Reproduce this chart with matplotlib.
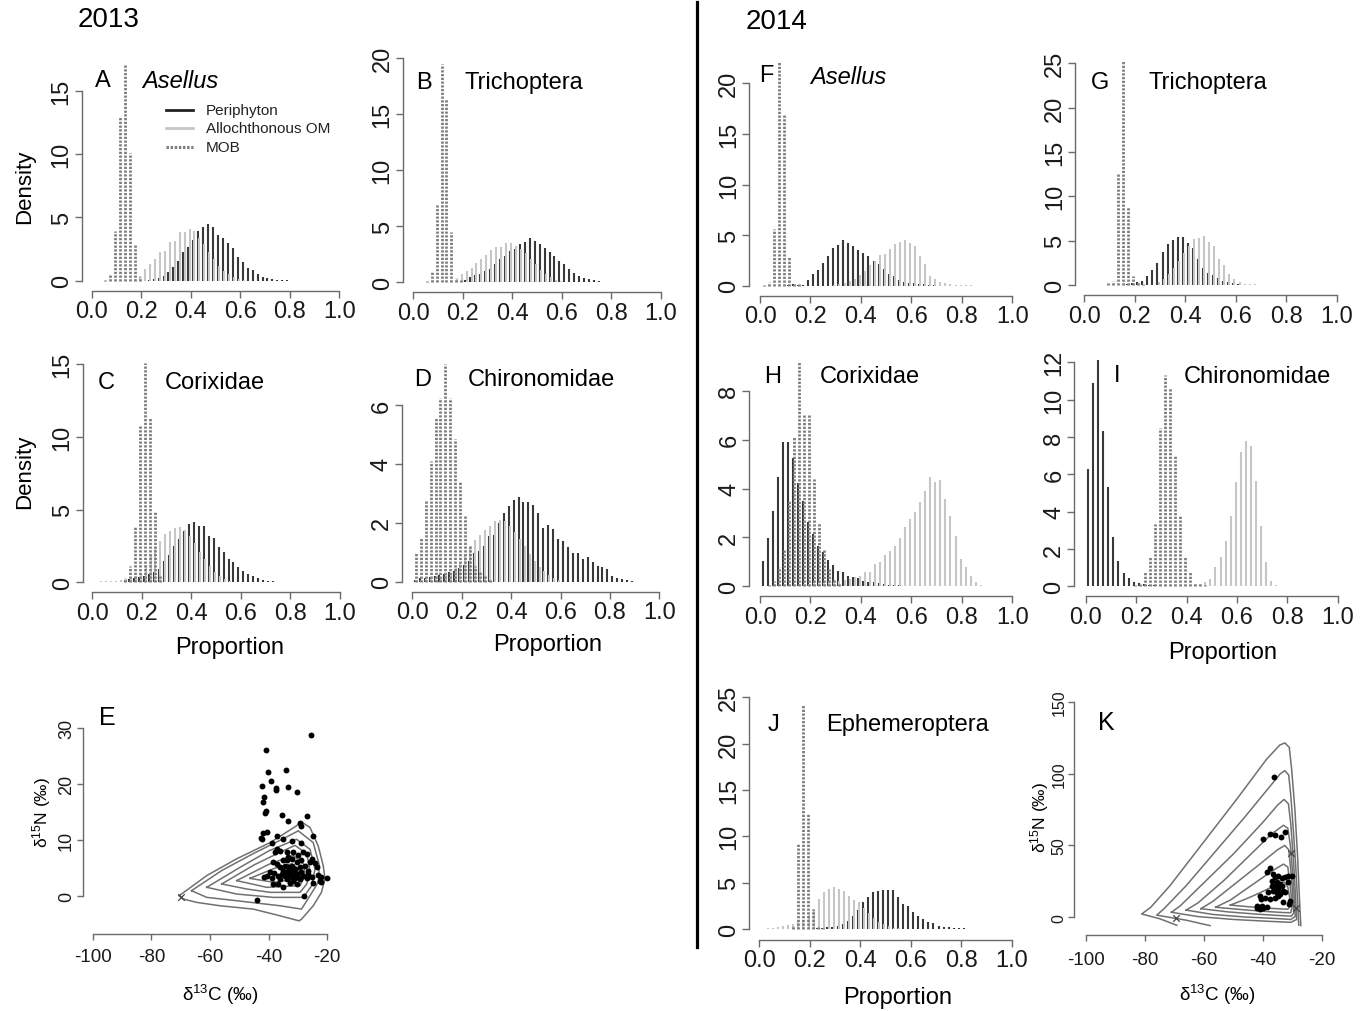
import numpy as np
import matplotlib.pyplot as plt
from matplotlib.lines import Line2D

plt.rcParams['font.family'] = ['Liberation Sans', 'DejaVu Sans']
plt.rcParams['mathtext.fontset'] = 'custom'
plt.rcParams['mathtext.rm'] = 'Liberation Sans'
plt.rcParams['mathtext.it'] = 'Liberation Sans:italic'
plt.rcParams['axes.unicode_minus'] = False

W, H = 1366, 1012
BIN = 0.02

# densities per 0.02 bin: (first bin midpoint, values)
A_peri = (0.23, [0.05,0.13,0.2,0.4,0.65,1.05,1.55,2.24,2.63,3.24,3.9,4.21,4.48,4.21,3.6,3.34,2.95,2.6,1.85,1.45,1.0,0.85,0.5,0.3,0.18,0.12,0.08,0.05,0.03])
A_allo = (0.17, [0.1,0.4,0.9,1.3,1.71,2.24,2.37,3.03,3.16,3.82,3.82,4.08,3.9,3.4,2.9,2.3,1.7,1.2,0.8,0.5,0.3,0.15,0.08])
A_mob = (0.05, [0.05,0.5,3.9,12.9,17.1,10.1,2.9,0.3])

B_peri = (0.21, [0.24,0.45,0.65,0.74,0.98,1.19,1.64,2.08,2.38,2.8,2.98,3.4,3.57,3.93,3.66,3.42,3.04,2.68,2.38,1.93,1.61,1.19,0.83,0.6,0.42,0.3,0.18,0.09,0.06])
B_allo = (0.15, [0.1,0.3,0.75,1.04,1.25,1.73,2.08,2.44,2.92,3.13,3.13,3.5,3.5,3.27,3.0,2.6,2.1,1.6,1.1,0.7,0.45,0.25,0.12,0.05])
B_mob = (0.05, [0.15,0.9,6.9,19.5,16.4,4.5,0.35,0.2])

C_peri = (0.13, [0.18,0.23,0.27,0.34,0.41,0.57,0.69,0.92,1.49,1.88,2.52,2.98,3.55,4.01,4.17,3.85,3.85,3.16,3.02,2.41,2.11,1.6,1.37,1.03,0.8,0.55,0.41,0.27,0.18,0.11,0.07,0.05])
C_allo = (0.01, [0.05,0.06,0.08,0.1,0.12,0.15,0.2,0.28,0.4,0.6,1.2,1.8,2.4,2.86,3.3,3.55,3.7,3.8,3.6,3.2,2.7,2.1,1.6,1.1,0.7,0.4,0.2,0.1])
C_mob = (0.13, [0.27,1.15,3.9,10.8,15.1,11.3,4.86,0.5])

D_peri = (0.01, [0.07,0.11,0.14,0.15,0.18,0.23,0.26,0.32,0.37,0.45,0.57,0.71,0.97,1.05,1.22,1.54,1.58,1.99,2.33,2.58,2.77,2.86,2.69,2.69,2.6,2.33,1.84,1.92,1.79,1.45,1.39,1.17,0.97,0.99,0.77,0.83,0.68,0.54,0.49,0.43,0.18,0.11,0.09,0.05,0.02])
D_allo = (0.01, [0.05,0.07,0.09,0.11,0.14,0.17,0.22,0.3,0.45,0.65,0.9,1.15,1.4,1.6,1.75,1.9,2.05,2.1,2.05,1.9,1.7,1.45,1.2,0.95,0.7,0.5,0.35,0.22,0.12,0.06])
D_mob = (0.01, [1.0,1.47,2.75,4.11,5.56,6.23,7.39,6.23,4.84,3.43,2.24,1.22,0.54,0.32,0.18,0.08])

F_peri = (0.11, [0.1,0.15,0.1,0.1,0.59,1.15,1.55,2.24,2.9,3.69,4.02,4.51,4.22,3.95,3.56,3.23,2.9,2.47,2.11,1.65,1.15,0.92,0.59,0.4,0.3,0.23,0.16,0.13,0.1,0.07])
F_allo = (0.29, [0.05,0.12,0.25,0.45,0.7,1.1,1.5,2.0,2.4,3.03,3.13,3.62,4.12,4.28,4.51,4.22,3.95,2.96,2.14,0.99,0.66,0.4,0.26,0.16,0.1,0.07,0.05,0.03])
F_mob = (0.01, [0.07,0.4,5.6,22.2,16.9,2.96,0.2,0.15])

G_peri = (0.17, [0.1,0.2,0.3,0.49,0.98,1.73,2.48,3.68,4.62,5.04,5.45,5.38,4.74,4.17,2.93,1.92,1.32,1.13,0.75,0.41,0.3,0.19,0.1,0.05])
G_allo = (0.29, [0.3,0.7,1.2,1.9,2.7,3.6,4.4,5.2,5.3,5.5,4.9,4.4,2.9,2.2,1.25,0.68,0.3,0.15,0.1,0.07,0.05,0.03])
G_mob = (0.09, [0.2,0.4,12.5,25.3,8.76,1.0,0.3,0.1])

H_peri = (0.01, [1.05,1.96,3.09,4.46,5.92,5.89,5.24,4.23,3.5,2.62,2.14,1.66,1.39,1.09,0.87,0.64,0.57,0.44,0.37,0.34,0.23,0.19,0.16,0.12,0.1,0.07,0.05,0.04,0.03,0.02])
H_allo = (0.15, [0.05,0.08,0.1,0.12,0.14,0.15,0.17,0.18,0.2,0.25,0.3,0.37,0.44,0.6,0.6,0.91,0.98,1.28,1.46,1.66,1.96,2.41,2.75,3.03,3.46,3.91,4.46,4.28,4.36,3.57,2.86,2.04,1.12,0.78,0.44,0.16,0.05,0.03,0.02])
H_mob = (0.03, [0.05,0.2,0.8,1.5,3.5,6.1,9.2,7.0,7.0,4.4,2.6,1.5,0.7,0.3,0.1])

I_peri = (0.01, [6.3,10.9,12.1,8.34,5.3,2.63,1.38,0.71,0.43,0.25,0.16,0.11,0.07,0.05,0.04,0.03,0.02])
I_allo = (0.43, [0.05,0.1,0.21,0.39,1.02,1.55,2.45,3.79,5.57,7.18,7.8,7.54,5.66,3.25,1.29,0.27,0.07])
I_mob = (0.19, [0.05,0.15,0.84,1.64,3.34,8.46,11.3,10.6,7.0,3.79,1.64,0.79,0.2,0.1,0.05])

J_peri = (0.23, [0.07,0.14,0.18,0.25,0.36,0.54,0.83,1.44,2.09,2.88,3.42,3.96,4.14,4.21,4.21,4.21,3.42,2.7,2.52,1.8,1.37,1.08,0.72,0.65,0.36,0.25,0.18,0.14,0.1,0.07,0.05])
J_allo = (0.01, [0.05,0.08,0.12,0.18,0.28,0.4,0.55,0.75,1.0,1.5,2.16,3.24,4.03,4.32,4.5,4.32,4.14,3.6,3.17,2.88,2.3,1.7,1.2,0.8,0.5,0.3,0.15,0.08])
J_mob = (0.11, [0.05,0.36,9.17,24.3,12.4,2.16,0.25,0.1])

# mixing space 2013 (E): consumers d13C, d15N
E_d13C = [-25.6,-40.9,-40.1,-34.1,-39.3,-42.2,-37.6,-37.5,-33.5,-30.5,-41.5,-41.8,-40.9,-41.3,-35.3,-27.0,-33.3,-29.3,-28.8,-42.0,
          -40.7,-42.6,-42.4,-24.8,-37.3,-38.8,-35.0,-32.2,-28.8,-37.3,-36.1,-33.9,-31.6,-28.2,-27.0,-29.9,-33.3,-32.2,-25.3,-24.2,
          -23.6,-38.4,-37.3,-34.4,-33.3,-32.2,-31.0,-29.3,-27.6,-26.5,-35.0,-33.9,-32.7,-31.6,-30.5,-28.8,-34.4,-33.3,-32.2,-31.0,
          -29.9,-35.6,-36.7,-38.2,-39.5,-40.7,-41.6,-38.9,-36.1,-33.9,-31.8,-29.3,-27.0,-25.3,-23.1,-22.0,-20.2,-22.6,-22.0,-24.8,
          -36.7,-35.0,-38.4,-32.7,-30.5,-43.9,-28.0,-37.8,-33.9,-30.5,-28.8,-25.9,-35.0,-36.1,-32.2,-28.2,-26.5]
E_d15N = [28.7,26.1,22.2,22.4,20.6,19.6,19.2,18.9,19.4,18.6,17.6,16.8,15.2,14.8,14.4,14.3,13.3,13.0,12.4,11.2,
          11.4,10.4,10.1,10.7,10.7,9.4,10.1,9.8,9.5,8.3,8.0,7.8,7.9,7.8,7.5,7.3,6.9,6.6,6.6,5.8,
          5.1,6.1,5.7,5.4,5.1,5.4,4.8,5.1,5.4,4.5,4.5,4.3,4.2,4.0,3.9,4.2,3.6,3.5,3.3,3.2,
          3.4,3.9,3.6,4.0,4.2,3.6,3.4,3.2,3.0,2.9,2.7,3.0,3.1,3.3,3.7,3.3,3.1,2.7,2.4,2.3,
          2.1,1.5,2.1,2.3,2.1,-0.8,0.0,7.8,6.3,6.0,6.3,6.1,6.3,5.1,4.5,3.6,3.9]
E_src_x = [-69.8]
E_src_y = [-0.3]
E_ring1 = [(-70.5,0.0),(-61.1,3.6),(-50.9,6.6),(-39.5,9.5),(-30.5,12.5),(-28.8,13.2),(-25.9,12.2),(-23.1,8.9),(-21.4,5.4),(-20.8,3.0),
           (-22.0,0.6),(-24.8,-1.8),(-28.8,-4.2),(-29.6,-4.5),(-36.1,-3.6),(-45.2,-2.4),(-56.6,-1.8),(-64.5,-1.2),(-69.1,-0.6),(-70.5,0.0)]
E_ring2 = [(-66.3,0.9),(-56.0,4.5),(-45.0,7.6),(-35.0,10.2),(-29.9,11.6),(-24.8,9.5),(-22.7,5.4),(-23.1,2.4),(-25.9,0.0),(-28.8,-2.4),
           (-36.1,-1.8),(-50.9,-0.9),(-61.1,-0.3),(-66.3,0.9)]
E_ring3 = [(-61.1,1.5),(-50.0,5.0),(-40.0,8.0),(-30.5,10.1),(-25.9,8.3),(-24.2,4.8),(-25.3,1.8),(-28.2,-0.3),(-38.4,-0.3),(-50.9,0.3),(-61.1,1.5)]
E_ring4 = [(-56.0,2.1),(-45.0,5.5),(-36.0,7.8),(-31.0,9.0),(-27.0,7.5),(-25.9,4.5),(-27.0,2.1),(-29.3,0.6),(-39.5,0.6),(-47.5,1.2),(-56.0,2.1)]
E_ring5 = [(-50.9,2.7),(-40.0,5.6),(-31.6,7.2),(-28.2,5.7),(-27.6,3.6),(-29.3,1.8),(-40.7,1.5),(-50.9,2.7)]
E_ring6 = [(-46.4,3.1),(-38.0,4.9),(-32.2,5.7),(-29.9,4.8),(-29.9,3.0),(-38.4,2.4),(-46.4,3.1)]

# mixing space 2014 (K)
K_d13C = [-36.2,-40.0,-37.6,-35.9,-33.8,-32.5,-38.7,-37.6,-36.4,-35.9,-34.8,-33.6,-32.5,-31.3,-30.2,-36.7,-35.3,-34.2,-37.0,-35.9,
          -34.8,-33.6,-33.0,-36.4,-35.3,-34.2,-38.1,-41.0,-40.7,-39.2,-37.6,-35.9,-32.5,-31.3,-30.8,-31.0,-33.0,-42.1,-41.5,-40.4,
          -39.8,-41.9,-41.0,-38.7,-34.8,-35.5]
K_d15N = [97.4,54.5,58.0,57.5,55.6,59.6,31.3,34.1,30.1,27.8,29.0,27.1,27.8,28.5,29.0,25.5,24.3,23.2,22.0,20.9,
          19.7,22.0,18.5,18.5,16.9,16.2,17.9,15.1,12.8,13.2,12.8,13.2,17.4,24.3,11.6,9.3,10.4,8.1,7.0,7.7,
          6.5,6.3,5.8,7.0,15.1,22.5]
K_src_x = [-69.6,-30.5,-28.7]
K_src_y = [-0.7,44.5,6.3]
K_ring1 = [(-69.2,-5.5),(-75.0,-1.0),(-81.1,2.3),(-78.0,7.0),(-71.5,22.0),(-60.2,52.0),(-48.9,82.0),(-38.7,110.0),(-34.2,119.9),(-32.5,121.3),
           (-31.0,118.2),(-30.2,103.0),(-29.1,75.0),(-28.2,43.0),(-27.6,15.0),(-27.1,-5.8)]
K_ring2 = [(-57.9,-5.8),(-66.0,-2.0),(-76.0,1.5),(-73.5,6.0),(-66.0,22.0),(-56.0,46.0),(-46.0,70.0),(-38.0,90.0),(-34.0,100.0),(-32.5,102.0),
           (-31.2,99.0),(-30.5,85.0),(-29.6,60.0),(-28.8,35.0),(-28.2,12.0),(-27.8,-5.5)]
K_ring3 = [(-71.0,3.5),(-62.0,0.5),(-50.0,-1.5),(-38.0,-2.8),(-30.5,-3.5),(-28.5,-1.5),(-28.9,15.0),(-29.6,40.0),(-30.5,65.0),(-31.3,79.0),
           (-32.8,82.0),(-35.0,78.0),(-40.0,66.0),(-50.0,44.0),(-60.0,24.0),(-68.0,8.0),(-71.0,3.5)]
K_ring4 = [(-66.0,5.0),(-57.0,2.0),(-46.0,0.2),(-36.0,-0.8),(-30.5,-1.5),(-29.0,0.5),(-29.1,8.0),(-29.8,28.0),(-30.5,48.0),(-31.5,62.0),
           (-33.0,64.0),(-37.0,58.0),(-44.0,44.0),(-53.0,26.0),(-62.0,10.0),(-66.0,5.0)]
K_ring5 = [(-61.0,6.0),(-52.0,3.8),(-42.0,2.2),(-34.0,1.2),(-30.3,0.8),(-29.5,3.0),(-29.8,15.0),(-30.5,33.0),(-31.2,47.0),(-32.5,50.0),
           (-35.0,47.0),(-41.0,37.0),(-49.0,24.0),(-57.0,11.0),(-61.0,6.0)]
K_ring6 = [(-56.0,7.0),(-48.0,5.5),(-40.0,4.2),(-33.0,3.3),(-30.5,3.2),(-30.0,8.0),(-30.7,22.0),(-31.5,35.0),(-33.0,37.0),(-37.0,32.0),
           (-44.0,22.0),(-51.0,12.0),(-56.0,7.0)]
K_ring7 = [(-51.0,8.5),(-44.0,7.2),(-37.0,6.2),(-31.5,5.6),(-30.6,8.0),(-30.9,14.0),(-31.5,21.0),(-32.8,24.5),(-36.0,22.0),(-41.0,17.0),
           (-46.0,12.5),(-51.0,8.5)]

AXCOL = '#6a6a6a'
fig = plt.figure(figsize=(W / 100, H / 100), dpi=100)


def fx(x):
    return x / W


def fy(y):
    return 1 - y / H


def panel(ax_x, ax_y, xa, xpa, xb, xpb, ya, ypa, yb, ypb, right, top):
    # axes frame given in pixels, data mapping from two reference ticks on each axis
    ax = fig.add_axes([fx(ax_x), fy(ax_y), (right - ax_x) / W, (ax_y - top) / H])
    sx = (xb - xa) / (xpb - xpa)
    ax.set_xlim(xa + (ax_x - xpa) * sx, xa + (right - xpa) * sx)
    sy = (yb - ya) / (ypa - ypb)
    ax.set_ylim(ya - (ax_y - ypa) * sy, ya + (ypa - top) * sy)
    ax.patch.set_visible(False)
    return ax


def style(ax, xt, xl, yt, size, ysize=None):
    for s in ['top', 'right']:
        ax.spines[s].set_visible(False)
    for s in ['left', 'bottom']:
        ax.spines[s].set_color(AXCOL)
        ax.spines[s].set_linewidth(1.0)
    ax.spines['left'].set_bounds(yt[0], yt[-1])
    ax.spines['bottom'].set_bounds(xt[0], xt[-1])
    ax.set_xticks(xt, labels=xl)
    ax.set_yticks(yt, labels=[str(v) for v in yt], rotation=90, va='center')
    ax.tick_params(length=5, width=1.0, color=AXCOL, labelsize=size, labelcolor='#1a1a1a')
    ax.tick_params(axis='x', pad=2)
    ax.tick_params(axis='y', pad=1.5)
    if ysize:
        ax.tick_params(axis='y', labelsize=ysize)


def hist(ax, peri, allo, mob):
    for (start, vals), col, lw, ls, off in [(peri, '#383838', 1.5, '-', 0.0),
                                             (allo, '#c6c6c6', 1.5, '-', 0.005),
                                             (mob, '#7d7d7d', 2.0, (0, (0.8, 0.55)), 0.004)]:
        x = start + BIN * np.arange(len(vals)) + off
        ax.vlines(x, 0, vals, colors=col, linewidth=lw, linestyles=ls, clip_on=False)


def label(x, y, s, size=17, **kw):
    fig.text(fx(x), fy(y), s, fontsize=size, ha='center', va='center', **kw)


XT = [0, 0.2, 0.4, 0.6, 0.8, 1.0]
XL = ['0.0', '0.2', '0.4', '0.6', '0.8', '1.0']
TS = 17

specs = [
    # name, data, ax_x, ax_y, x0px, x1px, y0px, yref, yrefpx, right, top, yticks
    ('A', (A_peri, A_allo, A_mob), 81.7, 291.7, 91.7, 339.3, 281.7, 15, 91.7, 350, 55, [0, 5, 10, 15]),
    ('B', (B_peri, B_allo, B_mob), 402.7, 293.3, 413.3, 661.0, 283.3, 20, 59.3, 670, 50, [0, 5, 10, 15, 20]),
    ('C', (C_peri, C_allo, C_mob), 82.7, 593.3, 92.3, 340.0, 583.3, 15, 365.0, 350, 355, [0, 5, 10, 15]),
    ('D', (D_peri, D_allo, D_mob), 401.7, 592.7, 412.3, 659.3, 582.7, 6, 406.0, 670, 355, [0, 2, 4, 6]),
    ('F', (F_peri, F_allo, F_mob), 749.3, 296.7, 760.0, 1012.3, 286.7, 20, 84.3, 1022, 55, [0, 5, 10, 15, 20]),
    ('G', (G_peri, G_allo, G_mob), 1075.0, 296.0, 1084.3, 1336.7, 286.0, 25, 64.3, 1346, 50, [0, 5, 10, 15, 20, 25]),
    ('H', (H_peri, H_allo, H_mob), 749.3, 597.3, 760.0, 1012.3, 587.3, 8, 391.7, 1022, 355, [0, 2, 4, 6, 8]),
    ('I', (I_peri, I_allo, I_mob), 1074.3, 597.3, 1085.7, 1337.7, 587.3, 12, 363.3, 1346, 355, [0, 2, 4, 6, 8, 10, 12]),
    ('J', (J_peri, J_allo, J_mob), 749.3, 940.7, 759.3, 1011.7, 930.0, 25, 698.3, 1022, 690, [0, 5, 10, 15, 20, 25]),
]

for name, (pe, al, mo), axx, axy, x0, x1, y0, yr, yrp, right, top, yt in specs:
    ax = panel(axx, axy, 0, x0, 1, x1, 0, y0, yr, yrp, right, top)
    hist(ax, pe, al, mo)
    style(ax, XT, XL, yt, TS)

# mixing polygons
def mixing(ax_x, ax_y, x0px, x1px, y0px, yr, yrpx, right, top, yt, d13c, d15n, sx, sy, rings, xsize, ysize, xpad):
    ax = panel(ax_x, ax_y, -100, x0px, -20, x1px, 0, y0px, yr, yrpx, right, top)
    for ring in rings:
        r = np.array(ring)
        ax.plot(r[:, 0], r[:, 1], color='#707070', lw=1.1, clip_on=False)
    ax.scatter(d13c, d15n, s=18, color='black', zorder=3, clip_on=False, linewidths=0)
    ax.scatter(sx, sy, marker='x', s=22, color='#444444', linewidths=0.9, zorder=3, clip_on=False)
    style(ax, [-100, -80, -60, -40, -20], ['-100', '-80', '-60', '-40', '-20'], yt, xsize, ysize)
    ax.tick_params(length=4)
    ax.tick_params(axis='x', pad=xpad)
    return ax

mixing(82.7, 935.0, 92.7, 327.3, 896.7, 30, 729.0, 335, 700, [0, 10, 20, 30],
       E_d13C, E_d15N, E_src_x, E_src_y, [E_ring1, E_ring2, E_ring3, E_ring4, E_ring5, E_ring6], 13.5, 13, 6)
mixing(1074.3, 936.0, 1086.0, 1321.7, 918.3, 150, 702.7, 1330, 690, [0, 50, 100, 150],
       K_d13C, K_d15N, K_src_x, K_src_y, [K_ring1, K_ring2, K_ring3, K_ring4, K_ring5, K_ring6, K_ring7], 13.5, 11.5, 7.5)

# legend in panel A
leg = [('Periphyton', '#222222', '-', 2.0, 111.0),
       ('Allochthonous OM', '#c6c6c6', '-', 2.0, 129.3),
       ('MOB', '#7d7d7d', (0, (0.8, 0.55)), 2.2, 147.7)]
for txt, col, ls, lw, yy in leg:
    fig.add_artist(Line2D([fx(166), fx(193)], [fy(yy), fy(yy)], color=col, lw=lw, linestyle=ls))
    fig.text(fx(206), fy(yy), txt, fontsize=11, ha='left', va='center', color='#222222')

# year headers and divider
label(109, 20, '2013', 20)
label(777, 22, '2014', 20)
fig.add_artist(Line2D([fx(697), fx(697)], [fy(3), fy(948)], color='black', lw=2.3))

# panel letters and taxa
label(103, 81, 'A'); label(180, 81, 'Asellus', style='italic')
label(423.5, 83, 'B'); label(524, 83, 'Trichoptera')
label(106, 383, 'C'); label(215, 383, 'Corixidae')
label(422.5, 380, 'D'); label(541, 380, 'Chironomidae')
label(107.5, 718, 'E', 18)
label(766, 76, 'F'); label(848, 78, 'Asellus', style='italic')
label(1100.5, 83, 'G'); label(1208, 83, 'Trichoptera')
label(773, 377, 'H'); label(870, 377, 'Corixidae')
label(1117, 376, 'I'); label(1257, 377, 'Chironomidae')
label(773, 725, 'J'); label(908, 725, 'Ephemeroptera')
label(1106, 723, 'K', 18)

# axis titles
label(25, 187, 'Density', 16, rotation=90)
label(25, 472, 'Density', 16, rotation=90)
label(230, 648, 'Proportion')
label(548, 645, 'Proportion')
label(1223, 653, 'Proportion')
label(898, 998, 'Proportion')
label(42, 812, 'δ$^{15}$N (‰)', 12.5, rotation=90)
label(220, 995, 'δ$^{13}$C (‰)', 13.5)
label(1040, 817, 'δ$^{15}$N (‰)', 12.5, rotation=90)
label(1217, 995, 'δ$^{13}$C (‰)', 13.5)

fig.savefig('out.png', dpi=100)
